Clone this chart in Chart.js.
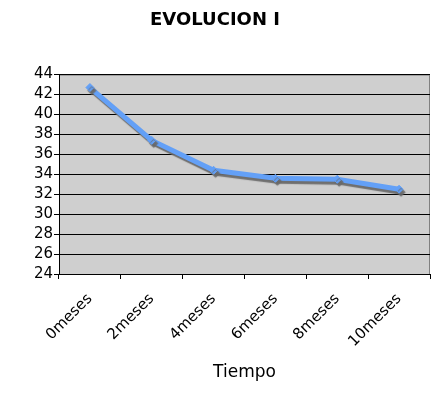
<!DOCTYPE html>
<html>
<head>
<meta charset="utf-8">
<script src="https://cdn.jsdelivr.net/npm/chart.js@4/dist/chart.umd.min.js"></script>
<style>
  html, body { margin: 0; padding: 0; background: #fff; }
  #wrap { width: 440px; height: 399px; }
</style>
</head>
<body>
<div id="wrap"><canvas id="evolucionChart" width="440" height="399"></canvas></div>
<script>
const meses = ['0meses', '2meses', '4meses', '6meses', '8meses', '10meses'];
const valores = [42.7, 37.4, 34.4, 33.6, 33.5, 32.5];
const yMin = 24;
const yMax = 44;
const yStep = 2;

// gray plot background + thin gray frame, like the old spreadsheet chart
const plotBackground = {
    id: 'plotBackground',
    beforeDraw(chart) {
        const { ctx, chartArea: a } = chart;
        ctx.save();
        ctx.fillStyle = '#cfcfcf';
        ctx.fillRect(a.left, a.top, a.right - a.left, a.bottom - a.top);
        ctx.strokeStyle = '#808080';
        ctx.lineWidth = 1;
        ctx.strokeRect(a.left + 0.5, a.top + 0.5, a.right - a.left - 1, a.bottom - a.top);
        ctx.restore();
    }
};

// drop shadow under the line
const lineShadow = {
    id: 'lineShadow',
    beforeDatasetsDraw(chart) {
        const ctx = chart.ctx;
        ctx.save();
        ctx.shadowColor = 'rgba(105,105,105,0.95)';
        ctx.shadowOffsetX = 2;
        ctx.shadowOffsetY = 3;
        ctx.shadowBlur = 1;
    },
    afterDatasetsDraw(chart) {
        chart.ctx.restore();
    }
};

const ctx = document.getElementById('evolucionChart').getContext('2d');
new Chart(ctx, {
    type: 'line',
    data: {
        labels: meses,
        datasets: [{
            label: 'Evolucion',
            data: valores,
            borderColor: '#63a0f7',
            backgroundColor: '#63a0f7',
            borderWidth: 5,
            pointStyle: 'rectRot',
            pointRadius: 4,
            pointBorderWidth: 1,
            tension: 0
        }]
    },
    options: {
        responsive: false,
        animation: false,
        layout: {
            padding: { left: 0, right: 10, top: 0, bottom: 16 }
        },
        scales: {
            x: {
                offset: true,
                grid: {
                    offset: true,
                    drawOnChartArea: false,
                    color: '#000',
                    tickLength: 5
                },
                border: { color: '#000' },
                ticks: {
                    color: '#000',
                    font: { family: 'DejaVu Sans', size: 15 },
                    maxRotation: 45,
                    minRotation: 45,
                    autoSkip: false,
                    padding: 11
                },
                title: {
                    display: true,
                    text: 'Tiempo',
                    color: '#000',
                    font: { family: 'DejaVu Sans', size: 17 },
                    padding: { top: 4, bottom: 0 }
                },
                afterFit(scale) { scale.height = 109; }
            },
            y: {
                min: yMin,
                max: yMax,
                grid: {
                    color: '#000',
                    tickLength: 5
                },
                border: { color: '#000' },
                ticks: {
                    stepSize: yStep,
                    autoSkip: false,
                    color: '#000',
                    font: { family: 'DejaVu Sans', size: 15, lineHeight: 1 },
                    padding: 1
                },
                afterFit(scale) { scale.width = 59; }
            }
        },
        plugins: {
            legend: { display: false },
            tooltip: { enabled: false },
            title: {
                display: true,
                text: 'EVOLUCION I',
                color: '#000',
                font: { family: 'DejaVu Sans', size: 18, weight: 'bold' },
                padding: { top: 10, bottom: 43 }
            }
        }
    },
    plugins: [plotBackground, lineShadow]
});
</script>
</body>
</html>
